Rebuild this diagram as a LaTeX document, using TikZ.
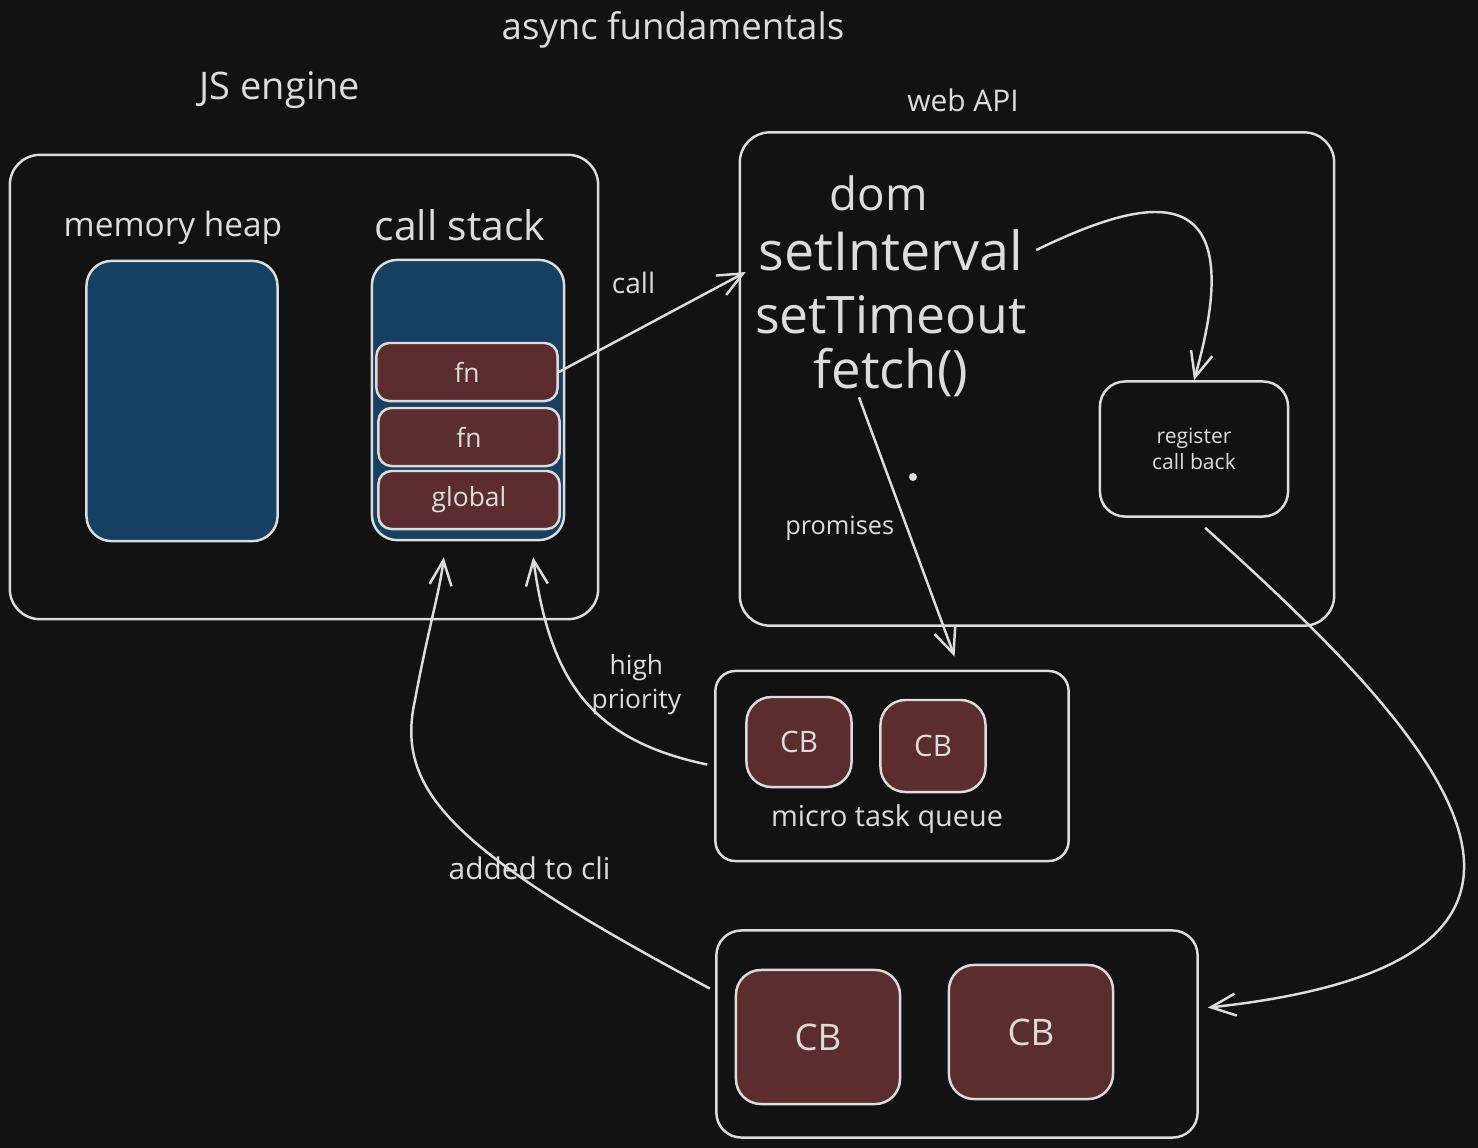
\documentclass[tikz,border=0pt]{standalone}
\usepackage{fontspec}
\setmainfont{Open Sans}
\usetikzlibrary{arrows.meta}
\definecolor{bgdark}{HTML}{121212}
\definecolor{inkgrey}{HTML}{DCDCDC}
\definecolor{heapblue}{HTML}{164061}
\definecolor{cbred}{HTML}{5C2D2E}
\begin{document}
\begin{tikzpicture}[x=0.01cm,y=-0.01cm,color=inkgrey,line width=0.7pt,
  >={Straight Barb[length=2.5mm,width=2.2mm]},
  hand/.style 2 args={font=\fontsize{#1}{#2}\selectfont},
  box/.style={draw,rounded corners=3mm,inner sep=0pt},
  cb/.style={draw,rounded corners=2.5mm,fill=cbred,inner sep=0pt},
  frame/.style={draw,rounded corners=1.3mm,fill=cbred,inner sep=0pt,minimum width=1.81cm,minimum height=0.58cm,hand={7.5}{9}}]
\fill[bgdark] (0,0) rectangle (1478,1148);
\useasboundingbox (0,0) rectangle (1478,1148);

% titles
\node(title)[hand={10.4}{12}] at (673,30) {async fundamentals};
\node(enginelbl)[hand={10.8}{13}] at (280,90) {JS engine};
\node(apilbl)[hand={8.5}{10}] at (963,100) {web API};

% JS engine
\node(engine)[box,minimum width=5.88cm,minimum height=4.64cm] at (304,387) {};
\node(heaplbl)[hand={9.5}{11}] at (173,228) {memory heap};
\node(stacklbl)[hand={11.6}{14}] at (460,225) {call stack};
\node(heap)[box,rounded corners=2.5mm,fill=heapblue,minimum width=1.91cm,minimum height=2.80cm] at (182,401) {};
\node(stack)[box,rounded corners=2.5mm,fill=heapblue,minimum width=1.92cm,minimum height=2.80cm] at (468,400) {};
\node(fnA)[frame] at (467,372) {fn};
\node(fnB)[frame] at (469,437) {fn};
\node(glob)[frame] at (469,500) {global};

% web API
\node(webapi)[box,minimum width=5.94cm,minimum height=4.93cm] at (1037,379) {};
\node(dom)[hand={13}{15}] at (879,193) {dom};
\node(setint)[hand={15.3}{18}] at (891,250) {setInterval};
\node(settime)[hand={14.7}{18}] at (891,315) {setTimeout};
\node(fetch)[hand={15}{18}] at (891,372) {fetch()};
\node(dot)[circle,fill,inner sep=0pt,minimum size=0.8mm] at (913,477) {};
\node(register)[box,rounded corners=2.5mm,minimum width=1.88cm,minimum height=1.35cm,align=center,hand={6}{7.5}] at (1194,449) {register\\call back};

% queues
\node(micro)[box,rounded corners=2mm,minimum width=3.53cm,minimum height=1.90cm] at (892,766) {};
\node(cbA)[cb,minimum width=1.05cm,minimum height=0.90cm,hand={8.4}{10}] at (799,742) {CB};
\node(cbB)[cb,minimum width=1.05cm,minimum height=0.92cm,hand={8.4}{10}] at (933,746) {CB};
\node(microlbl)[hand={8.2}{10}] at (887,819) {micro task queue};
\node(macro)[box,rounded corners=2.5mm,minimum width=4.81cm,minimum height=2.07cm] at (957,1034) {};
\node(cbC)[cb,minimum width=1.64cm,minimum height=1.34cm,hand={10.4}{12}] at (818,1037) {CB};
\node(cbD)[cb,minimum width=1.64cm,minimum height=1.34cm,hand={10.4}{12}] at (1031,1032) {CB};

% connectors
\draw[->] (fnA.east) --node[pos=0.4,above=2.5mm,hand={8}{10}]{call} ([yshift=-2.2mm]setint.west);
\draw[->] (setint.east) .. controls (1140,200) and (1255,165) .. (register.north);
\draw[->,shorten >=1.4mm] ([shift={(-3.2mm,1.2mm)}]fetch.south) --node[pos=0.48,left=0pt,hand={7.2}{9}]{promises} (micro.55);
\draw[->,shorten <=1.5mm,shorten >=0.9mm] (register.south) .. controls (1430,730) and (1650,960) .. (macro.6.5);
\draw[->,shorten <=0.7mm,shorten >=1.6mm] (micro.west) .. controls (590,740) and (550,680) .. (stack.-66)
  node[pos=0.55,right=1pt,align=center,hand={7.5}{9.5}]{high\\priority};
\draw[->,shorten <=0.6mm,shorten >=1.6mm] (macro.170) .. controls (450,850) and (395,790) .. (415,700)
  node[pos=0.3,yshift=1.5mm,hand={8.5}{10}]{added to cli}
  .. controls (428,630) and (440,590) .. (stack.-99);

\end{tikzpicture}
\end{document}
